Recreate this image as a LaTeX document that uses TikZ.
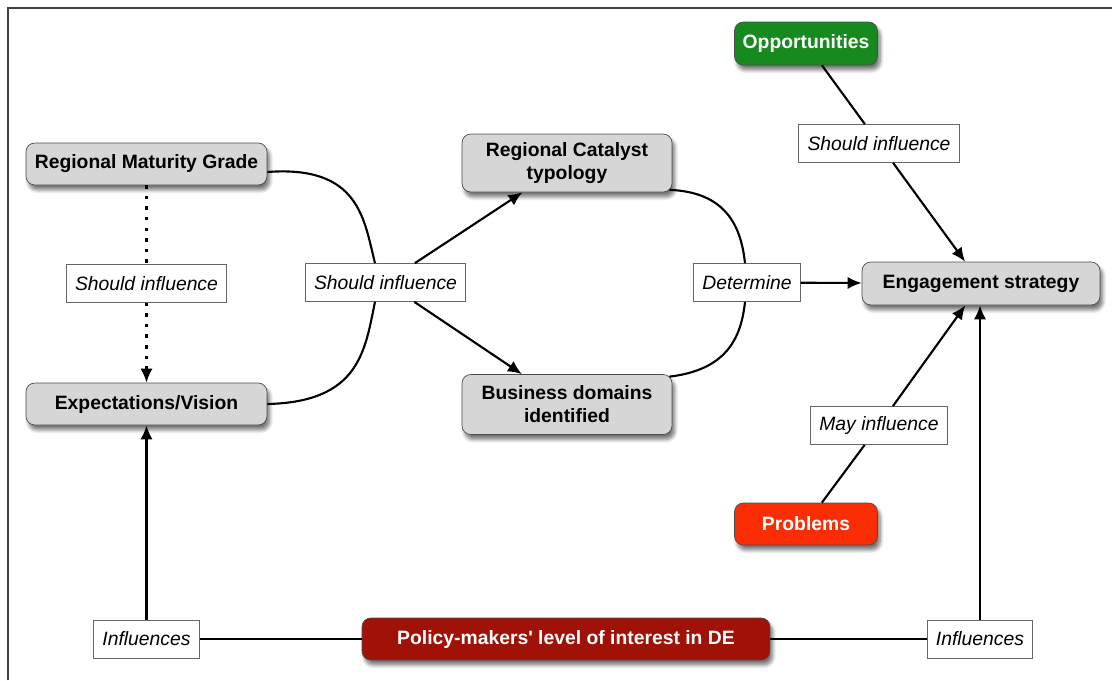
\documentclass[tikz,border=0pt]{standalone}
\usepackage{fontspec}
\setmainfont{Liberation Sans}
\usetikzlibrary{arrows.meta,positioning,shadows.blur}

\definecolor{conceptgray}{RGB}{214,214,214}
\definecolor{oppgreen}{RGB}{22,138,30}
\definecolor{probred}{RGB}{250,45,5}
\definecolor{policyred}{RGB}{160,18,8}

\begin{document}
\begin{tikzpicture}[
    x=0.02cm, y=-0.02cm,
    concept/.style={rectangle, draw=black!70, rounded corners=5pt, fill=conceptgray, minimum height=0.84cm, align=center, font=\fontsize{11}{13}\selectfont\bfseries, blur shadow={shadow xshift=1.5pt, shadow yshift=-2.8pt, shadow blur steps=6, shadow opacity=55}},
    hot/.style={concept, text=white},
    linkname/.style={rectangle, draw=black!60, fill=white, minimum height=0.76cm, inner xsep=5pt, font=\fontsize{11}{13}\selectfont\itshape},
    linkarrow/.style={line width=1.2pt, -{Latex[length=8pt,width=7pt]}},
    linkline/.style={line width=1.2pt}
]
\useasboundingbox (0,0) rectangle (1112,680);

% frame
\draw[black!75, line width=1pt] (8,680) -- (8,8) -- (1112,8);

% Concepts
\node[concept, minimum width=4.82cm] (maturity) at (146.5,164) {Regional Maturity Grade};
\node[concept, minimum width=4.82cm] (vision) at (146.5,404) {Expectations/Vision};
\node[concept, minimum width=4.2cm, minimum height=1.16cm] (catalyst) at (567,163) {Regional Catalyst\\typology};
\node[concept, minimum width=4.2cm, minimum height=1.2cm] (domains) at (567,404.5) {Business domains\\identified};
\node[concept, minimum width=4.76cm, minimum height=0.86cm] (strategy) at (981,283.5) {Engagement strategy};
\node[hot, fill=oppgreen, minimum width=2.86cm, minimum height=0.86cm] (opps) at (806,43.5) {Opportunities};
\node[hot, fill=probred, minimum width=2.86cm] (probs) at (806,524) {Problems};
\node[hot, fill=policyred, minimum width=8.16cm] (policy) at (566,639) {Policy-makers\textquotesingle{} level of interest in DE};

% Linking phrases
\node[linkname] (shouldA) at (146.5,283.5) {Should influence};
\node[linkname] (shouldB) at (385.5,282.5) {Should influence};
\node[linkname] (determine) at (747,282.5) {Determine};
\node[linkname] (shouldC) at (879,143.5) {Should influence};
\node[linkname] (mayinf) at (879,425.5) {May influence};
\node[linkname] (infL) at (146.5,639) {Influences};
\node[linkname] (infR) at (980,639) {Influences};

% Maturity -> Vision
\draw[linkline, dash pattern=on 2pt off 4pt, line width=1.4pt] (maturity.south) -- (shouldA.north);
\draw[linkarrow, dash pattern=on 2pt off 4pt, line width=1.4pt] (shouldA.south) -- (vision.north);

% Maturity + Vision -> Catalyst, Domains
\draw[linkline] ([yshift=-0.16cm]maturity.east) .. controls (360,165) and (364,220) .. ([xshift=-0.21cm]shouldB.north);
\draw[linkline] (vision.east) .. controls (360,402) and (365,350) .. ([xshift=-0.21cm]shouldB.south);
\draw[linkarrow] (shouldB) -- (catalyst);
\draw[linkarrow] (shouldB) -- (domains);

% Catalyst + Domains -> Strategy
\draw[linkline] ([xshift=-0.06cm,yshift=0.05cm]catalyst.south east) .. controls (725,192) and (741,225) .. ([xshift=-0.04cm]determine.north);
\draw[linkline] ([xshift=-0.06cm,yshift=-0.05cm]domains.north east) .. controls (725,370) and (741,340) .. ([xshift=-0.04cm]determine.south);
\draw[linkarrow] (determine) -- (strategy);

% Opportunities, Problems -> Strategy
\draw[linkline] (opps) -- (shouldC);
\draw[linkarrow] (shouldC) -- (strategy);
\draw[linkline] (probs) -- (mayinf);
\draw[linkarrow] (mayinf) -- (strategy);

% Policy-makers
\draw[linkline] (policy.west) -- (infL.east);
\draw[linkarrow] (infL.north) -- (vision.south);
\draw[linkline] (policy.east) -- (infR.west);
\draw[linkarrow] (infR.north) -- (infR.north |- strategy.south);

\end{tikzpicture}
\end{document}
